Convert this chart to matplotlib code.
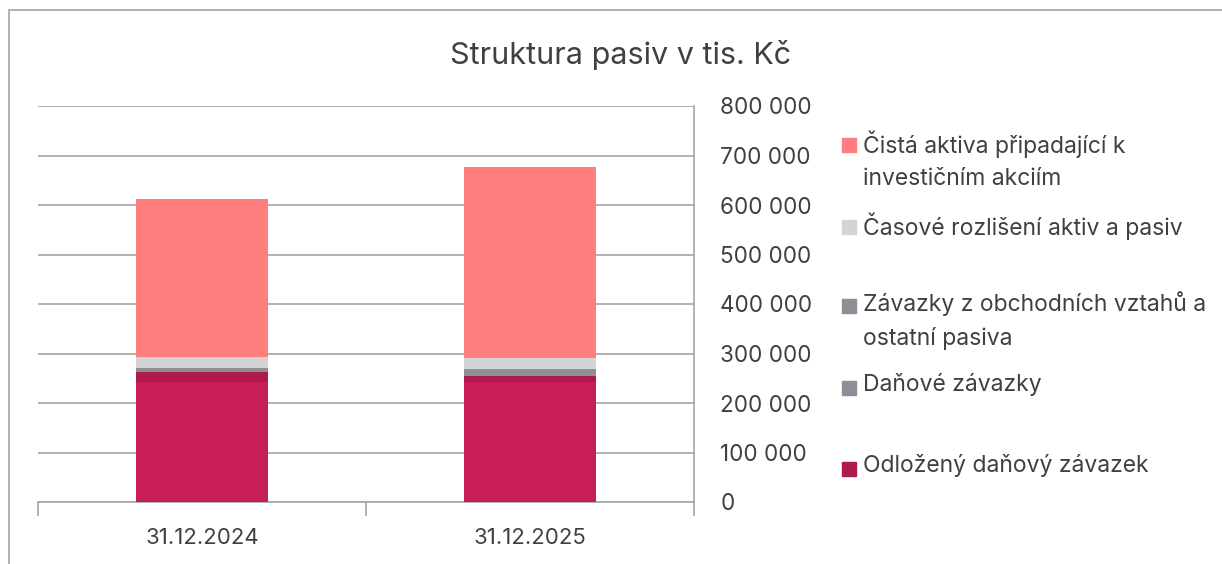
import matplotlib
matplotlib.use("Agg")
import matplotlib.pyplot as plt
from matplotlib.patches import Rectangle
from matplotlib.ticker import FuncFormatter, FixedLocator
import numpy as np

plt.rcParams['font.family'] = ['Inter', 'DejaVu Sans']

categories = ["31.12.2024", "31.12.2025"]
series_names = [
    "",  # unlabeled bottom series
    "Odložený daňový závazek",
    "Daňové závazky",
    "Závazky z obchodních vztahů a\nostatní pasiva",
    "Časové rozlišení aktiv a pasiv",
    "Čistá aktiva připadající k\ninvestičním akciím",
]
base_values = [241800, 241800]
odlozeny = [21400, 13300]
danove = [4000, 9500]
zavazky = [4100, 5000]
casove = [22200, 21600]
cista = [318600, 386500]
series_values = [base_values, odlozeny, danove, zavazky, casove, cista]
colors = ["#C71E59", "#AD1A4B", "#8E8E96", "#8E8E96", "#D4D4D4", "#FF7F7F"]
yticks = list(range(0, 800001, 100000))

fig = plt.figure(figsize=(12.22, 5.64), dpi=100)
W, H = 1222, 564

# outer frame
fig.patches.append(Rectangle((9 / W, -0.1), 1.2, (H - 10) / H + 0.1, transform=fig.transFigure,
                             fill=False, edgecolor="#A6A6A6", linewidth=1.2))

ax = fig.add_axes([38 / W, (H - 502) / H, (694 - 38) / W, (502 - 106) / H])
x = np.arange(len(categories))
bottom = np.zeros(len(categories))
for vals, col in zip(series_values, colors):
    ax.bar(x, vals, width=0.4, bottom=bottom, color=col, edgecolor="none", zorder=3)
    bottom += np.array(vals)

ax.set_xlim(-0.5, len(categories) - 0.5)
ax.set_ylim(0, 800000)
ax.yaxis.tick_right()
ax.set_yticks(yticks)
ax.yaxis.set_major_formatter(FuncFormatter(lambda v, p: f"{int(v):,}".replace(",", " ")))
ax.tick_params(axis="y", length=0, pad=19, labelsize=16.2, labelcolor="#404040")
for lbl in ax.get_yticklabels():
    lbl.set_horizontalalignment("left")
ax.grid(axis="y", color="#A6A6A6", linewidth=1.2, zorder=0)
ax.set_axisbelow(True)

ax.xaxis.set_major_locator(FixedLocator(x))
ax.set_xticklabels(categories)
ax.xaxis.set_minor_locator(FixedLocator([-0.5, 0.5, 1.5]))
ax.tick_params(axis="x", which="major", length=0, pad=19, labelsize=16, labelcolor="#404040")
ax.tick_params(axis="x", which="minor", length=10, width=1.2, color="#A6A6A6")

for s in ["top", "left"]:
    ax.spines[s].set_visible(False)
ax.spines["right"].set_color("#A6A6A6")
ax.spines["right"].set_linewidth(1.2)
ax.spines["bottom"].set_color("#A6A6A6")
ax.spines["bottom"].set_linewidth(1.2)

fig.text(621 / W, 1 - 55 / H, "Struktura pasiv v tis. Kč", ha="center", va="center",
         fontsize=22, color="#404040")

# legend (manual placement to mimic hidden entries)
legend_items = [
    (5, 145),
    (4, 227),
    (3, 306),
    (2, 388),
    (1, 469),
]
for idx, ycen in legend_items:
    fig.patches.append(Rectangle((842 / W, 1 - (ycen + 7) / H), 14 / W, 14 / H,
                                 transform=fig.transFigure, color=colors[idx]))
    fig.text(863 / W, 1 - (ycen - 15) / H, series_names[idx], ha="left", va="top",
             fontsize=16.5, color="#404040", linespacing=1.62)

fig.savefig("out.png", dpi=100)
